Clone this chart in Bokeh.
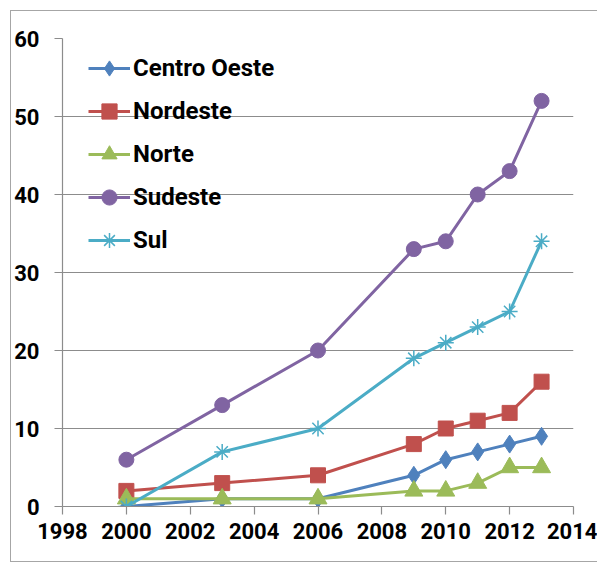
from bokeh.plotting import figure
from bokeh.models import Range1d, FixedTicker, Legend, LegendItem
from bokeh.embed import file_html
from bokeh.resources import INLINE

years = [2000, 2003, 2006, 2009, 2010, 2011, 2012, 2013]
centro_oeste = [0, 1, 1, 4, 6, 7, 8, 9]
nordeste = [2, 3, 4, 8, 10, 11, 12, 16]
norte = [1, 1, 1, 2, 2, 3, 5, 5]
sudeste = [6, 13, 20, 33, 34, 40, 43, 52]
sul = [0, 7, 10, 19, 21, 23, 25, 34]
series_names = ["Centro Oeste", "Nordeste", "Norte", "Sudeste", "Sul"]
x_ticks = [1998, 2000, 2002, 2004, 2006, 2008, 2010, 2012, 2014]
y_ticks = [0, 10, 20, 30, 40, 50, 60]

FONT = "Roboto"

p = figure(width=587, height=552, output_backend="svg", toolbar_location=None,
           x_range=Range1d(1998, 2014), y_range=Range1d(0, 60),
           min_border_left=50, min_border_right=25, min_border_top=27, min_border_bottom=57)
p.styles = {"margin-left": "10px", "margin-top": "10px",
            "border-left": "1.5px solid #a6a6a6",
            "border-top": "1.5px solid #a6a6a6",
            "border-bottom": "1.5px solid #a6a6a6"}
p.outline_line_color = None
p.background_fill_color = "white"
p.border_fill_color = "white"

p.xgrid.grid_line_color = None
p.ygrid.grid_line_color = "#8c8c8c"
p.ygrid.grid_line_width = 1.2

for ax in (p.xaxis[0], p.yaxis[0]):
    ax.axis_line_color = "#8c8c8c"
    ax.axis_line_width = 1.2
    ax.major_tick_line_color = "#8c8c8c"
    ax.major_tick_line_width = 1.2
    ax.major_tick_out = 8
    ax.major_tick_in = 0
    ax.minor_tick_line_color = None
    ax.major_label_text_font = FONT
    ax.major_label_text_font_size = "22px"
    ax.major_label_text_font_style = "bold"
    ax.major_label_text_color = "black"

p.xaxis.ticker = FixedTicker(ticks=x_ticks)
p.yaxis.ticker = FixedTicker(ticks=y_ticks)
p.xaxis.major_label_standoff = 8
p.yaxis.major_label_standoff = 15

data = [centro_oeste, nordeste, norte, sudeste, sul]
colors = ["#4F81BD", "#C0504D", "#9BBB59", "#8064A2", "#4BACC6"]
markers = ["diamond", "square", "triangle", "circle", "asterisk"]
sizes = [18, 15, 18, 15, 16]

items = []
for name, vals, c, m, s in zip(series_names, data, colors, markers, sizes):
    l = p.line(years, vals, line_color=c, line_width=3)
    if m == "asterisk":
        sc = p.scatter(years, vals, marker=m, size=s, line_color=c, line_width=1.5)
    else:
        sc = p.scatter(years, vals, marker=m, size=s, fill_color=c, line_color=c)
    items.append(LegendItem(label=name, renderers=[l, sc]))

legend = Legend(items=items, location=(26, 247))
legend.border_line_color = None
legend.background_fill_alpha = 0
legend.label_text_font = FONT
legend.label_text_font_size = "24px"
legend.label_text_font_style = "bold"
legend.label_text_color = "black"
legend.glyph_width = 42
legend.glyph_height = 38
legend.label_height = 38
legend.label_standoff = 3
legend.spacing = 5
legend.padding = 0
legend.margin = 0
p.add_layout(legend)

open("out.html", "w").write(file_html(p, INLINE))
